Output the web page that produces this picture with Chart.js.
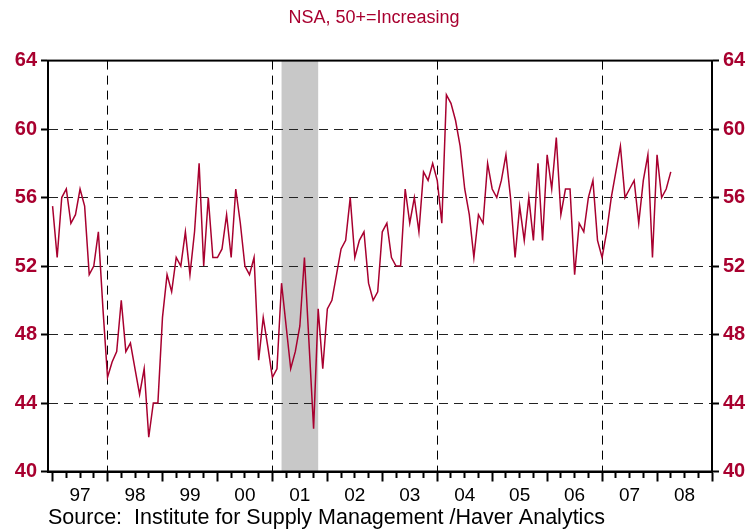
<!DOCTYPE html>
<html lang="en">
<head>
    <meta charset="UTF-8">
    <title>NSA, 50+=Increasing</title>
    <script src="https://cdn.jsdelivr.net/npm/chart.js"></script>
    <style>
        body {
            margin: 0;
            background: #fff;
        }
    </style>
</head>
<body>
    <canvas id="grafico" width="748" height="529"></canvas>

    <script>
        // Datos mensuales, ene 1997 - abr 2008
        var startYear = 1997;
        var nsa = [
            55.5, 52.5, 56, 56.5, 54.5, 55, 56.5, 55.5, 51.5, 52, 54, 49.5,
            45.5, 46.4, 47, 50, 47, 47.5, 46, 44.5, 46, 42, 44, 44,
            49, 51.5, 50.5, 52.5, 52, 54, 51.5, 54, 58, 52, 56, 52.5,
            52.5, 53, 55, 52.5, 56.5, 54.5, 52, 51.5, 52.5, 46.5, 49, 47.3,
            45.5, 46, 51, 48.5, 46, 47, 48.5, 52.5, 47.5, 42.5, 49.5, 46,
            49.5, 50, 51.5, 53, 53.5, 56, 52.5, 53.5, 54, 51, 50, 50.5,
            54, 54.5, 52.5, 52, 52, 56.5, 54.5, 56, 54, 57.5, 57, 58,
            57, 54.5, 62, 61.5, 60.5, 59, 56.5, 55, 52.5, 55, 54.5, 58,
            56.5, 56, 57, 58.5, 56, 52.5, 55.5, 53.5, 56, 53.5, 58, 53.5,
            58.5, 56.5, 59.5, 55, 56.5, 56.5, 51.5, 54.5, 54, 56, 57, 53.5,
            52.5, 54, 56, 57.5, 59, 56, 56.5, 57, 54.5, 57, 58.5, 52.5,
            58.5, 56, 56.5, 57.5
        ];
        var yearLabels = ['97', '98', '99', '00', '01', '02', '03', '04', '05', '06', '07', '08'];
        var dividerYears = [1998, 2001, 2004, 2007];
        var recession = [2001 + 2 / 12, 2001 + 10 / 12];   // mar - nov 2001
        var yTicks = [40, 44, 48, 52, 56, 60, 64];

        var rojo = '#a8002f';
        var fuente = "'Liberation Sans', Arial, sans-serif";

        var puntos = nsa.map(function (v, i) {
            return { x: startYear + i / 12, y: v };
        });

        // ticks trimestrales
        var trimestres = [];
        for (var q = 0; q <= 48; q++) trimestres.push(1997 + q * 0.25);

        // sombra de recesion y marco
        var extras = {
            id: 'extras',
            beforeDraw: function (chart) {
                var c = chart.ctx, a = chart.chartArea, x = chart.scales.x;
                var x1 = x.getPixelForValue(recession[0]);
                var x2 = x.getPixelForValue(recession[1]);
                c.save();
                c.fillStyle = '#c8c8c8';
                c.fillRect(x1, a.top, x2 - x1, a.bottom - a.top);
                c.restore();
            },
            afterDraw: function (chart) {
                var c = chart.ctx, a = chart.chartArea;
                c.save();
                c.strokeStyle = '#000';
                c.lineWidth = 2;
                c.strokeRect(a.left, a.top, a.right - a.left, a.bottom - a.top);
                c.restore();
            }
        };

        var ctx = document.getElementById('grafico').getContext('2d');
        var myChart = new Chart(ctx, {
            type: 'line',
            data: {
                datasets: [{
                    data: puntos,
                    borderColor: rojo,
                    borderWidth: 1.5,
                    pointRadius: 0,
                    fill: false,
                    tension: 0
                }]
            },
            options: {
                responsive: false,
                animation: false,
                devicePixelRatio: 1,
                layout: { padding: 0 },
                plugins: {
                    legend: { display: false },
                    tooltip: { enabled: false },
                    title: {
                        display: true,
                        text: 'NSA, 50+=Increasing',
                        color: rojo,
                        font: { family: fuente, size: 18, weight: 'normal', lineHeight: 1.2 },
                        padding: { top: 7, bottom: 32 }
                    },
                    subtitle: {
                        display: true,
                        position: 'bottom',
                        align: 'start',
                        fullSize: false,
                        text: 'Source:  Institute for Supply Management /Haver Analytics',
                        color: '#000',
                        font: { family: fuente, size: 21.5, weight: 'normal', lineHeight: 1 },
                        padding: { top: 5, bottom: 0 }
                    }
                },
                scales: {
                    x: {
                        type: 'linear',
                        min: 1996 + 11 / 12,
                        max: 2009,
                        afterBuildTicks: function (scale) {
                            scale.ticks = trimestres.map(function (v) { return { value: v }; });
                        },
                        afterFit: function (scale) { scale.height = 31; },
                        ticks: {
                            autoSkip: false,
                            maxRotation: 0,
                            color: '#000',
                            padding: 3,
                            font: { family: fuente, size: 19 },
                            callback: function (v) {
                                if (v % 1 === 0.5) return yearLabels[Math.floor(v) - 1997];
                                return '';
                            }
                        },
                        grid: {
                            color: function (c) {
                                return c.tick && dividerYears.indexOf(c.tick.value) >= 0 ? '#000' : 'rgba(0,0,0,0)';
                            },
                            lineWidth: 1,
                            tickColor: '#000',
                            tickWidth: 2,
                            tickLength: 10,
                            tickBorderDash: function (c) {
                                return c.tick && c.tick.value % 1 === 0 ? [] : [5, 20];
                            }
                        },
                        border: { color: '#000', width: 2, dash: [9, 6] }
                    },
                    y: {
                        position: 'left',
                        min: 40,
                        max: 64,
                        afterBuildTicks: function (scale) {
                            scale.ticks = yTicks.map(function (v) { return { value: v }; });
                        },
                        afterFit: function (scale) { scale.width = 48; },
                        ticks: {
                            color: rojo,
                            padding: 4,
                            font: { family: fuente, size: 20, weight: 'bold' }
                        },
                        grid: {
                            color: function (c) {
                                var v = c.tick && c.tick.value;
                                return (v === 40 || v === 64) ? 'rgba(0,0,0,0)' : '#222';
                            },
                            lineWidth: 1,
                            tickColor: '#000',
                            tickWidth: 2,
                            tickLength: 7
                        },
                        border: { color: '#000', width: 2, dash: [9, 6] }
                    },
                    y2: {
                        position: 'right',
                        min: 40,
                        max: 64,
                        afterBuildTicks: function (scale) {
                            scale.ticks = yTicks.map(function (v) { return { value: v }; });
                        },
                        afterFit: function (scale) { scale.width = 36; },
                        ticks: {
                            color: rojo,
                            padding: 4,
                            font: { family: fuente, size: 20, weight: 'bold' }
                        },
                        grid: {
                            drawOnChartArea: false,
                            tickColor: '#000',
                            tickWidth: 2,
                            tickLength: 7
                        },
                        border: { color: '#000', width: 2 }
                    }
                }
            },
            plugins: [extras]
        });
    </script>
</body>
</html>
